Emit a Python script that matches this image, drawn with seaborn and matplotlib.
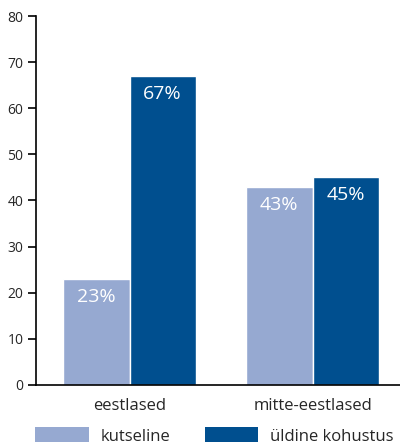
import matplotlib
matplotlib.use("Agg")
import matplotlib.pyplot as plt
import seaborn as sns
import pandas as pd
from matplotlib.patches import Patch

groups = ["eestlased", "mitte-eestlased"]
series = ["kutseline", "üldine kohustus"]
kutseline = [23, 43]
uldine = [67, 45]
colors = ["#96a9d1", "#004f8f"]

df = pd.DataFrame({
    "group": groups * 2,
    "series": [series[0]] * 2 + [series[1]] * 2,
    "value": kutseline + uldine,
})

sns.set_style("white")
plt.rcParams["font.family"] = ["Open Sans", "DejaVu Sans"]

fig = plt.figure(figsize=(4, 4.46), dpi=100)
ax = fig.add_axes([0.09, 0.137, 0.91, 0.827])
sns.barplot(data=df, x="group", y="value", hue="series", hue_order=series,
            palette=colors, width=0.725, edgecolor="white", linewidth=1,
            ax=ax, legend=False, saturation=1)

for cont in ax.containers:
    for bar in cont:
        h = bar.get_height()
        ax.annotate(f"{h:.0f}%", (bar.get_x() + bar.get_width() / 2, h),
                    xytext=(0, -13), textcoords="offset points",
                    ha="center", va="center", color="white", fontsize=14)

ax.set_ylim(0, 80)
ax.set_xlim(-0.511, 1.478)
ax.set_yticks(range(0, 81, 10))
ax.set_xlabel("")
ax.set_ylabel("")
sns.despine(ax=ax, top=True, right=True)
for s in ["left", "bottom"]:
    ax.spines[s].set_color("black")
    ax.spines[s].set_linewidth(1.2)
ax.tick_params(axis="y", which="both", left=True, length=6, width=1.2,
               color="black", labelsize=10, pad=3)
ax.tick_params(axis="x", bottom=False, labelsize=12, pad=6)

handles = [Patch(facecolor=c, edgecolor="none") for c in colors]
fig.legend(handles, series, loc="center left",
           bbox_to_anchor=(0.088, 10 / 446),
           ncol=2, frameon=False, fontsize=12, handlelength=3.2,
           handleheight=1.0, handletextpad=0.7, columnspacing=2.1,
           borderpad=0, borderaxespad=0)

fig.savefig("out.png", dpi=100)
